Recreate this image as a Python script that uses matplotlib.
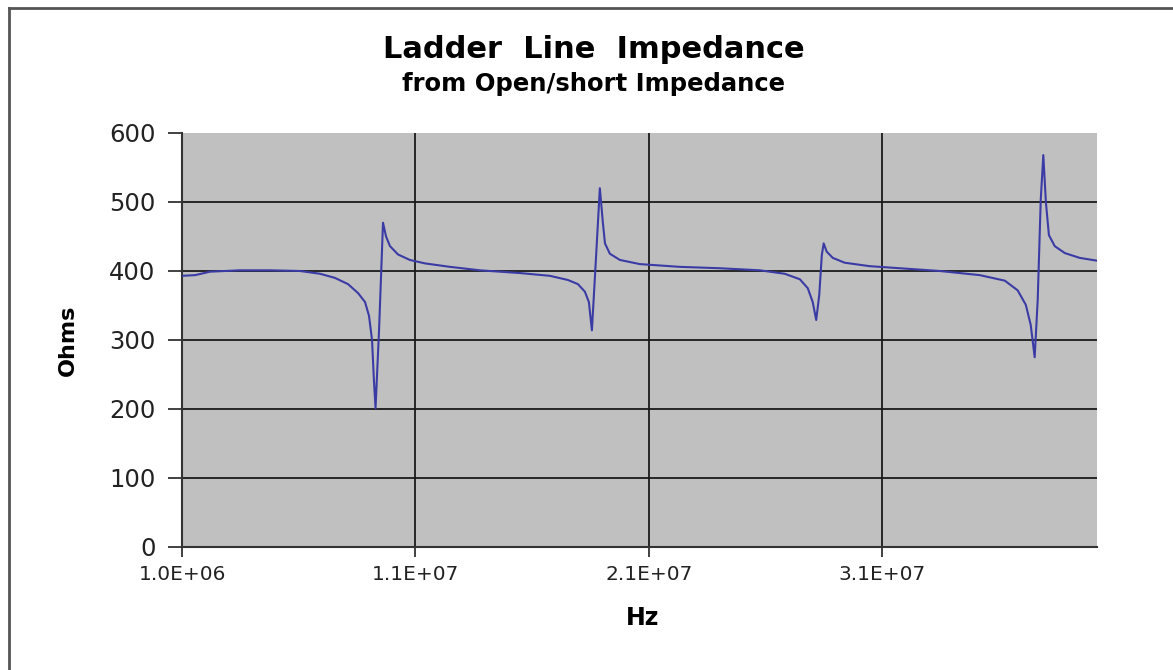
import matplotlib
matplotlib.use('Agg')
from matplotlib import pyplot as plt
from matplotlib.lines import Line2D
import numpy as np

# frequency in MHz, impedance in ohms
freq_mhz = [
    1.0, 1.56, 2.20, 3.48, 4.77, 6.05, 6.91, 7.55, 8.11, 8.54, 8.84, 9.01,
    9.14, 9.22, 9.29, 9.44, 9.61, 9.74, 9.91, 10.25, 10.76, 11.41, 12.48,
    13.76, 15.48, 16.76, 17.53, 17.96, 18.26, 18.43, 18.56, 18.73, 18.90,
    19.03, 19.12, 19.33, 19.76, 20.61, 22.33, 24.04, 25.75, 26.82, 27.47,
    27.81, 28.02, 28.17, 28.30, 28.41, 28.49, 28.62, 28.88, 29.39, 30.46,
    31.75, 33.46, 35.18, 36.25, 36.80, 37.15, 37.36, 37.53, 37.66, 37.79,
    37.90, 38.01, 38.14, 38.39, 38.82, 39.46, 40.19,
]
ohms = [
    393, 394, 399, 401, 401, 400, 396, 390, 381, 368, 355, 335,
    300, 242, 201, 314, 470, 450, 436, 424, 416, 411, 406,
    401, 397, 393, 387, 381, 370, 355, 314, 416, 520,
    470, 440, 425, 416, 410, 406, 404, 401, 396, 388,
    375, 355, 329, 365, 423, 440, 428, 419, 412, 407,
    404, 400, 394, 386, 372, 351, 322, 275, 358, 503,
    568, 500, 452, 436, 426, 419, 415,
]

y_ticks = [0, 100, 200, 300, 400, 500, 600]
x_ticks_hz = [1.0e6, 1.1e7, 2.1e7, 3.1e7]
x_tick_labels = ['1.0E+06', '1.1E+07', '2.1E+07', '3.1E+07']

freq_hz = np.array(freq_mhz) * 1e6

fig = plt.figure(figsize=(11.73, 6.70), dpi=100)
ax = fig.add_axes([0.1552, 0.1836, 0.78, 0.6179])
ax.set_facecolor('#c0c0c0')

ax.plot(freq_hz, ohms, color='#3b3ba6', lw=1.5, zorder=3)

ax.set_xlim(1.0e6, 4.02e7)
ax.set_ylim(0, 600)
ax.set_yticks(y_ticks)
ax.set_xticks(x_ticks_hz)
ax.set_xticklabels(x_tick_labels)

for y in y_ticks[1:-1]:
    ax.axhline(y, color='#1a1a1a', lw=1.3, zorder=1)
for x in x_ticks_hz[1:]:
    ax.axvline(x, color='#1a1a1a', lw=1.3, zorder=1)

for side in ['top', 'right']:
    ax.spines[side].set_visible(False)
for side in ['left', 'bottom']:
    ax.spines[side].set_color('#333333')
    ax.spines[side].set_linewidth(1.5)

ax.tick_params(axis='y', direction='out', length=10, width=1.3,
               color='#333333', labelsize=17.5, pad=9, labelcolor='#222222')
ax.tick_params(axis='x', direction='out', length=7, width=1.3,
               color='#333333', labelsize=14.5, pad=6, labelcolor='#222222')

ax.set_ylabel('Ohms', fontsize=16, fontweight='bold')
ax.yaxis.set_label_coords(-0.1137, 0.5)
ax.set_xlabel('Hz', fontsize=17, fontweight='bold')
ax.xaxis.set_label_coords(0.503, -0.1425)

fig.text(0.506, 0.926, 'Ladder  Line  Impedance', ha='center', va='center',
         fontsize=22, fontweight='bold')
fig.text(0.506, 0.874, 'from Open/short Impedance', ha='center', va='center',
         fontsize=17.5, fontweight='bold')

# outer chart frame (left and top edges visible)
fig.add_artist(Line2D([9 / 1173, 9 / 1173], [0, 1 - 8 / 670],
                      transform=fig.transFigure, color='#555555', lw=2))
fig.add_artist(Line2D([9 / 1173, 1], [1 - 8 / 670, 1 - 8 / 670],
                      transform=fig.transFigure, color='#555555', lw=2))

fig.savefig('out.png', dpi=100)
